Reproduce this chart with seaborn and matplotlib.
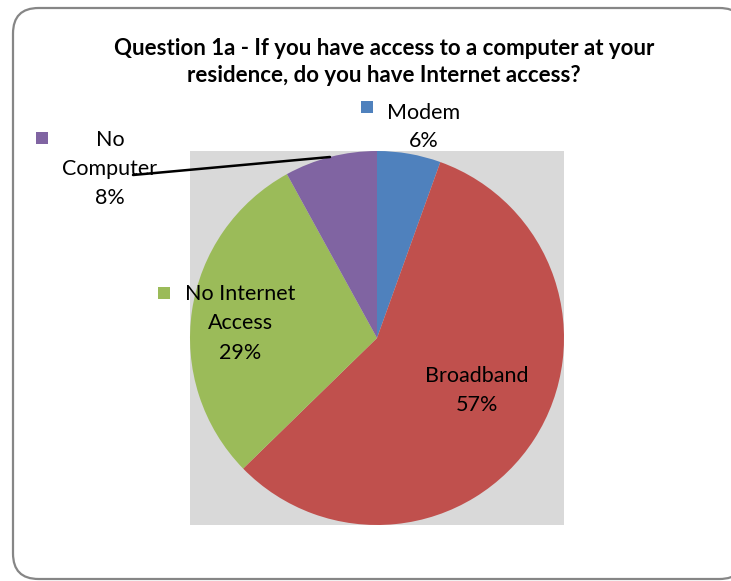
import matplotlib
matplotlib.use("Agg")
import matplotlib.pyplot as plt
from matplotlib.patches import FancyBboxPatch, Rectangle
import seaborn as sns

categories = ["Modem", "Broadband", "No Internet Access", "No Computer"]
values = [5.5, 57.2, 29.3, 8.0]
pct_labels = ["6%", "57%", "29%", "8%"]
colors = ["#4F81BD", "#C0504D", "#9BBB59", "#8064A2"]
title = "Question 1a - If you have access to a computer at your\nresidence, do you have Internet access?"

sns.set_theme(style="white")
plt.rcParams["font.family"] = ["Lato", "DejaVu Sans"]

W, H = 731, 581
fig = plt.figure(figsize=(W / 100, H / 100), dpi=100)

def fx(x):
    return x / W

def fy(y):
    return 1 - y / H

# outer rounded border
border = FancyBboxPatch((fx(13), fy(579)), fx(745) - fx(13), fy(8) - fy(579),
                        boxstyle="round,pad=0,rounding_size=0.035",
                        transform=fig.transFigure, facecolor="white",
                        edgecolor="#868686", linewidth=1.6, zorder=-5,
                        mutation_aspect=W / H)
fig.patches.append(border)

# plot area
ax = fig.add_axes([fx(190), fy(525), fx(564) - fx(190), fy(151) - fy(525)])
ax.set_zorder(1)

ax.pie(values, colors=colors, startangle=90, counterclock=False, radius=1.0,
       frame=True, wedgeprops=dict(linewidth=0))
ax.set_facecolor("#D9D9D9")
for s in ax.spines.values():
    s.set_visible(False)
ax.set_xticks([])
ax.set_yticks([])
ax.set_xlim(-1, 1)
ax.set_ylim(-1, 1)
ax.set_aspect("auto")

fig.text(fx(384), fy(62), title, ha="center", va="center", fontsize=16,
         fontweight="bold", linespacing=1.3, color="black", zorder=3)

lab_fs = 15.5

def txt(x, y, s):
    fig.text(fx(x), fy(y), s, ha="center", va="center", fontsize=lab_fs,
             color="black", zorder=3)

def key(x, y, c):
    fig.patches.append(Rectangle((fx(x), fy(y + 6)), fx(12), 12 / H,
                                 transform=fig.transFigure, facecolor=c,
                                 edgecolor="none", zorder=3))

# Modem
key(361, 107, colors[0])
txt(424, 113, categories[0])
txt(424, 141, pct_labels[0])

# Broadband
txt(477, 376, categories[1])
txt(477, 405, pct_labels[1])

# No Internet Access
key(158, 293, colors[2])
txt(240, 294, "No Internet")
txt(240, 323, "Access")
txt(240, 353, pct_labels[2])

# No Computer
key(36, 138, colors[3])
txt(110, 140, "No")
txt(110, 169, "Computer")
txt(110, 198, pct_labels[3])

# leader line
fig.add_artist(plt.Line2D([fx(133), fx(330)], [fy(175), fy(157)],
                          transform=fig.transFigure, color="black",
                          linewidth=1.8, zorder=4))

fig.savefig("out.png", dpi=100)
